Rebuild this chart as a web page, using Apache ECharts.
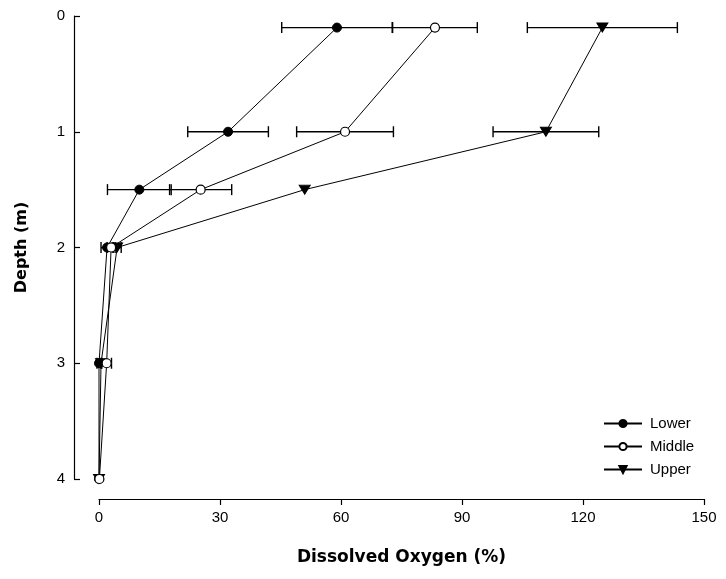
<!DOCTYPE html>
<html>
<head>
<meta charset="utf-8">
<script src="https://cdn.jsdelivr.net/npm/echarts@6/dist/echarts.min.js"></script>
<style>html,body{margin:0;padding:0;background:#fff}#c{width:726px;height:579px}</style>
</head>
<body>
<div id="c"></div>
<script>
var depths = [0.1, 1, 1.5, 2, 3, 4];
var lowerMean = [59, 32, 10, 2, 0, 0];
var lowerErr = [13.7, 10, 7.9, 1.5, 0.5, 0];
var middleMean = [83.3, 61, 25.2, 3, 1.9, 0.1];
var middleErr = [10.5, 12, 7.7, 1, 1.2, 0];
var upperMean = [124.8, 110.8, 51, 4.5, 0.5, 0];
var upperErr = [18.6, 13.1, 0, 1, 0, 0];
var xTicks = [0, 30, 60, 90, 120, 150];
var yTicks = [0, 1, 2, 3, 4];

function pts(m) { return depths.map(function (d, i) { return [m[i], d]; }); }
function errs(m, e) { return depths.map(function (d, i) { return [d, m[i] - e[i], m[i] + e[i]]; }); }

function errSeries(m, e) {
  return {
    type: 'custom', z: 1, silent: true,
    data: errs(m, e),
    encode: { x: [1, 2], y: 0 },
    renderItem: function (params, api) {
      var d = api.value(0), lo = api.value(1), hi = api.value(2);
      if (hi - lo <= 0) return null;
      var a = api.coord([lo, d]), b = api.coord([hi, d]);
      var h = 5.5;
      var st = { stroke: '#000', lineWidth: 1.4 };
      return { type: 'group', children: [
        { type: 'line', shape: { x1: a[0], y1: a[1], x2: b[0], y2: b[1] }, style: st },
        { type: 'line', shape: { x1: a[0], y1: a[1] - h, x2: a[0], y2: a[1] + h }, style: st },
        { type: 'line', shape: { x1: b[0], y1: b[1] - h, x2: b[0], y2: b[1] + h }, style: st }
      ]};
    }
  };
}

var chart = echarts.init(document.getElementById('c'), null, { renderer: 'canvas' });
var tickFont = 'Liberation Sans Narrow, Liberation Sans, Arial, sans-serif';
chart.setOption({
  animation: false,
  backgroundColor: '#fff',
  grid: { left: 99, right: 22, top: 16, bottom: 100, containLabel: false },
  legend: {
    orient: 'vertical', left: 598, top: 411,
    itemWidth: 38, itemHeight: 9, itemGap: 8,
    data: ['Lower', 'Middle', 'Upper'],
    textStyle: { fontFamily: 'Liberation Sans, Arial, sans-serif', fontSize: 15, color: '#000', padding: [0, 0, 0, 3], lineHeight: 14 }
  },
  xAxis: {
    type: 'value', min: 0, max: 150, interval: 30,
    position: 'bottom', offset: 20,
    name: 'Dissolved Oxygen (%)', nameLocation: 'middle', nameGap: 50,
    nameTextStyle: { fontFamily: 'DejaVu Sans, sans-serif', fontWeight: 'bold', fontSize: 17, color: '#000' },
    axisLine: { show: true, onZero: false, lineStyle: { color: '#000', width: 1.2 } },
    axisTick: { show: true, inside: false, length: 6, lineStyle: { color: '#000', width: 1.2 } },
    axisLabel: { margin: 11, fontFamily: tickFont, fontSize: 15, color: '#000',
      formatter: function (v) { return xTicks.indexOf(v) >= 0 ? String(v) : ''; } },
    splitLine: { show: false }
  },
  yAxis: {
    type: 'value', min: 0, max: 4, interval: 1, inverse: true,
    position: 'left', offset: 25,
    name: 'Depth (m)', nameLocation: 'middle', nameGap: 44, nameRotate: 90,
    nameTextStyle: { fontFamily: 'DejaVu Sans, sans-serif', fontWeight: 'bold', fontSize: 16, color: '#000' },
    axisLine: { show: true, onZero: false, lineStyle: { color: '#000', width: 1.2 } },
    axisTick: { show: true, inside: true, length: 6, lineStyle: { color: '#000', width: 1.2 } },
    axisLabel: { margin: 9, fontFamily: tickFont, fontSize: 15, color: '#000',
      formatter: function (v) { return yTicks.indexOf(v) >= 0 ? String(v) : ''; } },
    splitLine: { show: false }
  },
  series: [
    errSeries(lowerMean, lowerErr),
    errSeries(middleMean, middleErr),
    errSeries(upperMean, upperErr),
    {
      name: 'Lower', type: 'line', z: 3, data: pts(lowerMean),
      symbol: 'circle', symbolSize: 9,
      lineStyle: { color: '#000', width: 1 },
      itemStyle: { color: '#000', borderColor: '#000', borderWidth: 1 }
    },
    {
      name: 'Middle', type: 'line', z: 4, data: pts(middleMean),
      symbol: 'circle', symbolSize: 9,
      lineStyle: { color: '#000', width: 1 },
      itemStyle: { color: '#fff', borderColor: '#000', borderWidth: 1.2 }
    },
    {
      name: 'Upper', type: 'line', z: 3, data: pts(upperMean),
      symbol: 'triangle', symbolSize: [11, 9], symbolRotate: 180,
      lineStyle: { color: '#000', width: 1 },
      itemStyle: { color: '#000', borderColor: '#000', borderWidth: 1 }
    }
  ]
});
</script>
</body>
</html>
